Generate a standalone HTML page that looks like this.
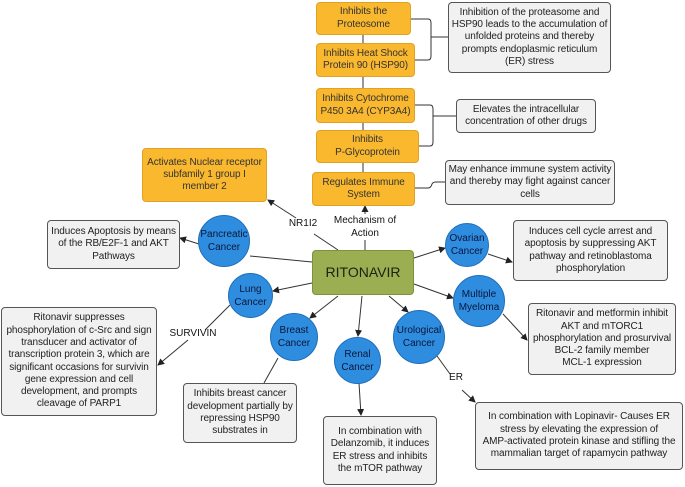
<!DOCTYPE html>
<html><head><meta charset="utf-8"><style>
body{margin:0;background:#fff;}
#c{position:relative;width:685px;height:487px;overflow:hidden;font-family:"Liberation Sans",sans-serif;}
.b{position:absolute;box-sizing:border-box;display:flex;align-items:center;justify-content:center;text-align:center;font-size:10px;line-height:12.3px;color:#222;border-radius:4px;letter-spacing:-0.1px;}
.o{background:#f9b82e;border:1px solid #e0a224;color:#333;}
.g{background:#f1f1f1;border:1.3px solid #555;}
.ci{position:absolute;border-radius:50%;background:#2f8de0;border:1px solid #1f6fb8;display:flex;align-items:center;justify-content:center;text-align:center;font-size:10px;line-height:13px;color:#0a1638;box-sizing:border-box;}
.l{position:absolute;font-size:10px;color:#111;text-align:center;line-height:12.5px;}
svg{position:absolute;left:0;top:0;}
</style></head><body><div id="c">
<svg width="685" height="487">
<defs><marker id="a" markerWidth="7" markerHeight="7" refX="6" refY="3.5" orient="auto"><path d="M0,0L7,3.5L0,7z" fill="#222"/></marker></defs>
<g stroke="#333" stroke-width="1" fill="none">
<line x1="363" y1="35" x2="363" y2="172"/>
<line x1="365" y1="214" x2="365" y2="206" marker-end="url(#a)"/>
<line x1="365" y1="240" x2="365" y2="250"/>
<path d="M411,19 H428 Q431,19 431,23 V56 Q431,60 428,60 H415 M431,37 H448"/>
<path d="M415,105 H430 Q433,105 433,109 V142 Q433,146 430,146 H419 M433,116 H456"/>
<path d="M415,188 H428 Q431,188 432,184 Q433,182 436,182 H445"/>
<line x1="338" y1="250" x2="314" y2="234"/>
<line x1="296" y1="218" x2="268" y2="200" marker-end="url(#a)"/>
<line x1="312" y1="262" x2="250" y2="256"/>
<line x1="199" y1="244" x2="180" y2="238" marker-end="url(#a)"/>
<line x1="414" y1="258" x2="445" y2="248" marker-end="url(#a)"/>
<line x1="488" y1="254" x2="512" y2="262" marker-end="url(#a)"/>
<line x1="312" y1="283" x2="273" y2="291" marker-end="url(#a)"/>
<line x1="230" y1="305" x2="205" y2="330"/>
<line x1="188" y1="340" x2="158" y2="365" marker-end="url(#a)"/>
<line x1="338" y1="296" x2="310" y2="318" marker-end="url(#a)"/>
<line x1="278" y1="358" x2="264" y2="383"/>
<line x1="362" y1="296" x2="358" y2="336" marker-end="url(#a)"/>
<line x1="359" y1="383" x2="361" y2="415" marker-end="url(#a)"/>
<line x1="389" y1="296" x2="408" y2="312" marker-end="url(#a)"/>
<line x1="437" y1="356" x2="450" y2="374"/>
<line x1="462" y1="390" x2="475" y2="402" marker-end="url(#a)"/>
<line x1="414" y1="284" x2="453" y2="298" marker-end="url(#a)"/>
<line x1="503" y1="314" x2="527" y2="340" marker-end="url(#a)"/>
</g></svg>
<div class="b o" style="left:316px;top:2px;width:95px;height:33px">Inhibits the<br>Proteosome</div>
<div class="b o" style="left:316px;top:43px;width:99px;height:34px">Inhibits Heat Shock<br>Protein 90 (HSP90)</div>
<div class="b o" style="left:316px;top:88px;width:99px;height:35px">Inhibits Cytochrome<br>P450 3A4 (CYP3A4)</div>
<div class="b o" style="left:316px;top:130px;width:103px;height:33px">Inhibits<br>P-Glycoprotein</div>
<div class="b o" style="left:312px;top:172px;width:103px;height:34px">Regulates Immune<br>System</div>
<div class="b o" style="left:142px;top:148px;width:125px;height:54px">Activates Nuclear receptor<br>subfamily 1 group I<br>member 2</div>
<div class="b g" style="left:448px;top:2px;width:163px;height:71px">Inhibition of the proteasome and<br>HSP90 leads to the accumulation of<br>unfolded proteins and thereby<br>prompts endoplasmic reticulum<br>(ER) stress</div>
<div class="b g" style="left:456px;top:99px;width:140px;height:34px">Elevates the intracellular<br>concentration of other drugs</div>
<div class="b g" style="left:445px;top:160px;width:170px;height:45px">May enhance immune system activity<br>and thereby may fight against cancer<br>cells</div>
<div class="b g" style="left:47px;top:220px;width:133px;height:49px">Induces Apoptosis by means<br>of the RB/E2F-1 and AKT<br>Pathways</div>
<div class="b g" style="left:513px;top:220px;width:155px;height:61px">Induces cell cycle arrest and<br>apoptosis by suppressing AKT<br>pathway and retinoblastoma<br>phosphorylation</div>
<div class="b g" style="left:1px;top:307px;width:156px;height:109px">Ritonavir suppresses<br>phosphorylation of c-Src and sign<br>transducer and activator of<br>transcription protein 3, which are<br>significant occasions for survivin<br>gene expression and cell<br>development, and prompts<br>cleavage of PARP1</div>
<div class="b g" style="left:183px;top:383px;width:114px;height:60px">Inhibits breast cancer<br>development partially by<br>repressing HSP90<br>substrates in</div>
<div class="b g" style="left:323px;top:416px;width:114px;height:69px">In combination with<br>Delanzomib, it induces<br>ER stress and inhibits<br>the mTOR pathway</div>
<div class="b g" style="left:475px;top:402px;width:208px;height:68px">In combination with Lopinavir- Causes ER<br>stress by elevating the expression of<br>AMP-activated protein kinase and stifling the<br>mammalian target of rapamycin pathway</div>
<div class="b g" style="left:528px;top:303px;width:148px;height:72px">Ritonavir and metformin inhibit<br>AKT and mTORC1<br>phosphorylation and prosurvival<br>BCL-2 family member<br>MCL-1 expression</div>
<div class="b" style="left:312px;top:250px;width:102px;height:45px;background:#9bae52;border:1px solid #7d923c;font-size:14px;color:#1a2210;letter-spacing:0">RITONAVIR</div>
<div class="ci" style="left:198px;top:215px;width:52px;height:52px">Pancreatic<br>Cancer</div>
<div class="ci" style="left:445px;top:223px;width:44px;height:44px">Ovarian<br>Cancer</div>
<div class="ci" style="left:228px;top:273px;width:45px;height:45px">Lung<br>Cancer</div>
<div class="ci" style="left:453px;top:275px;width:52px;height:52px">Multiple<br>Myeloma</div>
<div class="ci" style="left:270px;top:313px;width:48px;height:48px">Breast<br>Cancer</div>
<div class="ci" style="left:393px;top:310px;width:52px;height:54px">Urological<br>Cancer</div>
<div class="ci" style="left:334px;top:337px;width:47px;height:47px">Renal<br>Cancer</div>
<div class="l" style="left:325px;top:215px;width:80px">Mechanism of<br>Action</div>
<div class="l" style="left:288px;top:218px;width:30px">NR1I2</div>
<div class="l" style="left:168px;top:328px;width:50px">SURVIVIN</div>
<div class="l" style="left:446px;top:372px;width:20px">ER</div>
</div></body></html>
